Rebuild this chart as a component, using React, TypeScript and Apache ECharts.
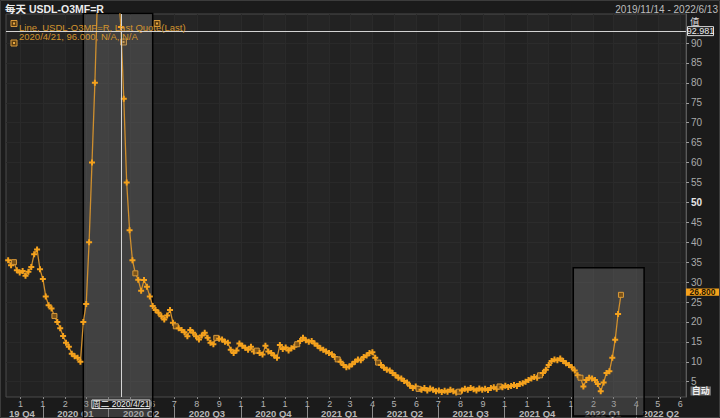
import React, { useEffect, useRef } from 'react';
import * as echarts from 'echarts';

// ---------- data ----------
const SERIES_START = '2019-11-14';
const STEP_DAYS = 4; // one reading every 4 calendar days

// Nov 2019 – Feb 2020
const VALUES_PRE = [35.5, 34.2, 35.0, 33.0, 32.4, 32.8, 31.6, 32.6, 33.8, 37.0, 38.2, 33.2, 30.8, 26.4, 24.2, 23.4, 21.5, 20.0, 18.4, 16.5, 14.8, 13.8, 12.0, 11.4, 11.0, 10.0];
// Mar – May 2020 (spike, peak runs off the top of the chart)
const VALUES_SPIKE = [20.0, 24.5, 40.0, 60.0, 80.0, 104.0, 122.0, 132.0, 138.0, 136.0, 128.0, 117.0, 104.0, 94.0, 76.0, 55.0, 43.0, 35.5, 32.2, 30.6, 27.8, 30.5, 28.8, 26.4];
// Jun – Sep 2020
const VALUES_2020B = [24.0, 23.0, 22.3, 21.4, 20.6, 21.6, 23.0, 19.8, 18.9, 18.4, 18.0, 17.4, 16.4, 18.0, 17.3, 16.4, 15.6, 16.6, 17.3, 16.0, 14.8, 14.4, 16.0, 15.8, 15.6, 15.0, 14.8, 13.0, 12.2, 12.8];
// Oct 2020 – Mar 2021
const VALUES_2020C = [14.6, 14.0, 13.5, 13.0, 13.8, 12.6, 12.8, 12.2, 11.8, 14.0, 12.6, 12.2, 11.6, 11.0, 14.2, 13.2, 13.6, 12.8, 13.4, 13.8, 14.4, 15.2, 16.0, 15.4, 15.0, 15.2, 14.6, 14.0, 13.4, 13.0, 12.6, 12.2, 11.9, 11.2, 10.6, 10.0, 9.2, 8.6, 8.8, 9.4];
// Mar 2021 – Sep 2021
const VALUES_2021A = [10.0, 10.6, 10.4, 11.2, 11.6, 12.2, 12.4, 11.0, 9.8, 9.2, 8.5, 8.0, 7.8, 7.2, 6.6, 6.0, 5.8, 5.2, 4.8, 4.0, 3.4, 3.8, 3.2, 3.0, 3.4, 2.8, 3.3, 3.0, 2.6, 2.8, 2.4, 2.7, 2.5, 3.0, 2.6, 2.3, 2.5, 2.8, 3.2, 3.0, 3.4, 3.1, 2.8, 3.3, 3.0, 3.2, 2.9, 3.4, 3.6, 3.2];
// Sep 2021 – Mar 2022
const VALUES_2021B = [3.8, 3.6, 4.0, 3.7, 3.9, 4.2, 3.9, 4.4, 4.6, 5.0, 5.4, 5.8, 6.2, 6.0, 6.6, 7.2, 8.0, 9.2, 10.2, 10.6, 10.4, 10.8, 10.2, 9.6, 9.2, 8.6, 7.8, 6.6, 6.0, 3.8, 5.4, 6.0, 5.8, 5.4, 4.4, 2.6, 4.8, 7.2, 7.6, 11.0, 15.5, 22.0, 26.8];

const VALUES = [...VALUES_PRE, ...VALUES_SPIKE, ...VALUES_2020B, ...VALUES_2020C, ...VALUES_2021A, ...VALUES_2021B];

// indices carrying the square "event" marker
const SQUARE_INDEX = [2, 16, 44, 58, 72, 86, 100, 114, 128, 142, 156, 170, 184, 198, 212];

const X_MIN = '2019-11-11';
const X_MAX = '2022-06-09';
const Y_MIN = 1.16;
const Y_MAX = 97.28;
const Y_TICKS = [5, 10, 15, 20, 25, 30, 35, 40, 45, 50, 55, 60, 65, 70, 75, 80, 85, 90];

const MONTH_TICKS = ['2019-12-01', '2020-01-01', '2020-02-01', '2020-03-01', '2020-04-01', '2020-05-01', '2020-06-01', '2020-07-01', '2020-08-01', '2020-09-01', '2020-10-01', '2020-11-01', '2020-12-01', '2021-01-01', '2021-02-01', '2021-03-01', '2021-04-01', '2021-05-01', '2021-06-01', '2021-07-01', '2021-08-01', '2021-09-01', '2021-10-01', '2021-11-01', '2021-12-01', '2022-01-01', '2022-02-01', '2022-03-01', '2022-04-01', '2022-05-01', '2022-06-01'];
const MONTH_LABELS = ['1', '1', '2', '3', '4', '5', '6', '7', '8', '9', '1', '1', '1', '1', '2', '3', '4', '5', '6', '7', '8', '9', '1', '1', '1', '1', '2', '3', '4', '5', '6'];

const QUARTER_STARTS = ['2020-01-01', '2020-04-01', '2020-07-01', '2020-10-01', '2021-01-01', '2021-04-01', '2021-07-01', '2021-10-01', '2022-01-01', '2022-04-01'];
const QUARTER_LABEL_DATES = ['2019-12-03', '2020-02-15', '2020-05-16', '2020-08-15', '2020-11-15', '2021-02-14', '2021-05-16', '2021-08-15', '2021-11-15', '2022-02-14', '2022-05-05'];
const QUARTER_LABELS = ['19 Q4', '2020 Q1', '2020 Q2', '2020 Q3', '2020 Q4', '2021 Q1', '2021 Q2', '2021 Q3', '2021 Q4', '2022 Q1', '2022 Q2'];

const BOX1 = ['2020-02-26', '2020-06-01'];
const BOX2 = ['2022-01-04', '2022-04-12'];
const BOX2_TOP = 33.6;

const CROSSHAIR_DATE = '2020-04-18';
const CROSSHAIR_VALUE = 92.981;
const CROSSHAIR_DATE_TEXT = '周二 2020/4/21';
const LAST_VALUE_TEXT = '26.800';

const TITLE = '每天 USDL-O3MF=R';
const RANGE_TEXT = '2019/11/14 - 2022/6/13';
const LEGEND_1 = 'Line, USDL-O3MF=R, Last Quote(Last)';
const LEGEND_2 = '2020/4/21, 96.000, N/A, N/A';

const FONT = '"Liberation Sans", "Noto Sans CJK SC", sans-serif';
const ORANGE = '#f5a21d';

const t = (s: string) => {
  const [y, m, d] = s.split('-').map(Number);
  return new Date(y, m - 1, d).getTime();
};

export default function App() {
  const ref = useRef<HTMLDivElement>(null);

  useEffect(() => {
    const chart = echarts.init(ref.current!, null, { renderer: 'svg' });
    const DAY = 86400000;
    const start = t(SERIES_START);
    const monthVals = MONTH_TICKS.map(t);
    const qStartVals = QUARTER_STARTS.map(t);
    const qLabelVals = QUARTER_LABEL_DATES.map(t);
    const crossX = t(CROSSHAIR_DATE);
    const crossHalfSpan = 44 * DAY; // the crosshair date box covers month labels within this span

    const plus = 'path://M2,0L4,0L4,2L6,2L6,4L4,4L4,6L2,6L2,4L0,4L0,2L2,2Z';
    const seriesData = VALUES.map((v, i) => {
      const item: any = { value: [start + i * STEP_DAYS * DAY, v] };
      if (SQUARE_INDEX.includes(i)) {
        item.symbol = 'rect';
        item.symbolSize = 5;
        item.itemStyle = { color: '#7a5218', borderColor: '#d99a3a', borderWidth: 1 };
      }
      return item;
    });

    chart.setOption({
      animation: false,
      backgroundColor: '#1b1b1b',
      textStyle: { fontFamily: FONT },
      grid: {
        left: 6, right: 34, top: 14, bottom: 21,
        show: true, backgroundColor: '#222222', borderColor: '#4a4a4a', borderWidth: 1,
        containLabel: false, outerBoundsMode: 'none',
      },
      xAxis: [
        {
          type: 'value', min: t(X_MIN), max: t(X_MAX), position: 'bottom',
          axisLine: { show: false },
          axisTick: { show: true, customValues: monthVals, length: 2, lineStyle: { color: '#888' } },
          axisLabel: {
            customValues: monthVals, margin: 2, fontSize: 9, color: '#b4b4b4', fontFamily: FONT,
            formatter: (v: number) => {
              if (Math.abs(v - crossX) < crossHalfSpan) return '';
              const k = monthVals.indexOf(v);
              return k >= 0 ? MONTH_LABELS[k] : '';
            },
          },
          splitLine: { show: true, lineStyle: { color: '#2a2a2a', width: 1 } },
          splitArea: { show: true, areaStyle: { color: ['rgba(255,255,255,0)', 'rgba(255,255,255,0.015)'] } },
        },
        {
          type: 'value', min: t(X_MIN), max: t(X_MAX), position: 'bottom', offset: 9,
          axisLine: { show: false },
          axisTick: { show: true, customValues: qStartVals, length: 12, lineStyle: { color: '#8a8a8a' } },
          axisLabel: {
            customValues: qLabelVals, margin: 3, fontSize: 9.5, fontWeight: 'bold', color: '#b8b8b8', fontFamily: FONT,
            formatter: (v: number) => {
              const k = qLabelVals.indexOf(v);
              return k >= 0 ? QUARTER_LABELS[k] : '';
            },
          },
          splitLine: { show: false },
        },
      ],
      yAxis: {
        type: 'value', position: 'right', min: Y_MIN, max: Y_MAX,
        axisLine: { show: true, lineStyle: { color: '#5a5a5a' } },
        axisTick: { show: true, customValues: Y_TICKS, length: 3, lineStyle: { color: '#9a9a9a' } },
        axisLabel: {
          customValues: Y_TICKS, margin: 5, fontSize: 10, lineHeight: 9, color: '#aaaaaa', fontFamily: FONT,
          formatter: (v: number) => (v === 50 ? `{b|${v}}` : `${v}`),
          rich: { b: { fontWeight: 'bold', color: '#e6e6e6', fontSize: 10, lineHeight: 9, fontFamily: FONT } },
        },
        splitLine: { show: true, lineStyle: { color: '#292929' } },
      },
      series: [
        {
          type: 'line', xAxisIndex: 0, yAxisIndex: 0,
          data: seriesData,
          showAllSymbol: true,
          symbol: plus, symbolSize: 6,
          lineStyle: { color: '#cf8f2e', width: 1.3 },
          itemStyle: { color: ORANGE },
          z: 3,
          markLine: {
            silent: true, symbol: ['none', 'none'], label: { show: false },
            lineStyle: { color: '#d4d4d4', width: 1, type: 'solid' },
            data: [{ xAxis: crossX }, { yAxis: CROSSHAIR_VALUE }],
          },
        },
      ],
    });

    const px = (d: string) => (chart.convertToPixel({ seriesIndex: 0 }, [t(d), 50]) as number[])[0];
    const py = (v: number) => (chart.convertToPixel({ seriesIndex: 0 }, [t('2021-01-01'), v]) as number[])[1];

    const b1a = px(BOX1[0]), b1b = px(BOX1[1]);
    const b2a = px(BOX2[0]), b2b = px(BOX2[1]);
    const b2top = py(BOX2_TOP);
    const cx = px(CROSSHAIR_DATE);
    const cy = py(CROSSHAIR_VALUE);
    const ly = py(VALUES[VALUES.length - 1]);

    const icon = (x: number, y: number) => ({
      type: 'group', x, y, z: 12, silent: true,
      children: [
        { type: 'rect', shape: { x: 0, y: 0, width: 6, height: 6 }, style: { fill: '#5a3c10', stroke: '#d89a3c', lineWidth: 1 } },
        { type: 'rect', shape: { x: 2, y: 2, width: 2, height: 2 }, style: { fill: '#e8a840' } },
      ],
    });
    const txt = (x: number, y: number, text: string, fill: string, extra: any = {}) => ({
      type: 'text', x, y, z: 12, silent: true,
      style: { text, fill, fontSize: 9.5, fontFamily: FONT, align: 'left', verticalAlign: 'middle', ...extra },
    });

    chart.setOption({
      graphic: [
        { type: 'rect', z: 0, silent: true, shape: { x: 0.5, y: 0.5, width: 719, height: 417 }, style: { fill: 'none', stroke: '#3c3c3c', lineWidth: 1 } },
        { type: 'rect', z: 1, silent: true, shape: { x: b1a, y: 13.5, width: b1b - b1a, height: 418 - 13.5 }, style: { fill: 'rgba(125,125,125,0.32)', stroke: '#000', lineWidth: 1.5 } },
        { type: 'rect', z: 1, silent: true, shape: { x: b2a, y: b2top, width: b2b - b2a, height: 416 - b2top }, style: { fill: 'rgba(125,125,125,0.32)', stroke: '#000', lineWidth: 1.5 } },
        txt(5, 9, TITLE, '#ececec', { fontWeight: 'bold', fontSize: 10.5 }),
        txt(718, 9, RANGE_TEXT, '#bdbdbd', { align: 'right', fontSize: 10 }),
        icon(11, 20.5),
        txt(19, 27, LEGEND_1, '#d4952e'),
        icon(154, 20.5),
        icon(11, 40),
        txt(19, 36.5, LEGEND_2, '#d4952e'),
        icon(120.5, 39),
        txt(690, 21, '值', '#dddddd', { fontSize: 9.5 }),
        { type: 'rect', z: 12, silent: true, shape: { x: 687.5, y: cy - 4.5, width: 26, height: 9 }, style: { fill: '#1b1b1b', stroke: '#dddddd', lineWidth: 1 } },
        txt(700.5, cy, '92.981', '#eeeeee', { align: 'center', fontSize: 9 }),
        { type: 'rect', z: 12, silent: true, shape: { x: 686, y: ly - 6.4, width: 33, height: 7.4 }, style: { fill: ORANGE } },
        txt(702.5, ly - 2.7, LAST_VALUE_TEXT, '#2a1800', { align: 'center', fontSize: 8.5, fontWeight: 'bold', lineHeight: 7 }),
        { type: 'rect', z: 12, silent: true, shape: { x: 690.5, y: 386.5, width: 20.5, height: 9 }, style: { fill: '#6a6a6a' } },
        txt(700.75, 391, '自动', '#f0f0f0', { align: 'center', fontSize: 9, fontWeight: 'bold' }),
        { type: 'rect', z: 12, silent: true, shape: { x: cx - 29, y: 400, width: 58, height: 8.5 }, style: { fill: '#1b1b1b', stroke: '#dddddd', lineWidth: 1 } },
        txt(cx, 404.3, CROSSHAIR_DATE_TEXT, '#f0f0f0', { align: 'center', fontSize: 8.5 }),
      ],
    });

    return () => chart.dispose();
  }, []);

  return <div ref={ref} style={{ position: 'fixed', left: 0, top: 0, width: 720, height: 418 }} />;
}
